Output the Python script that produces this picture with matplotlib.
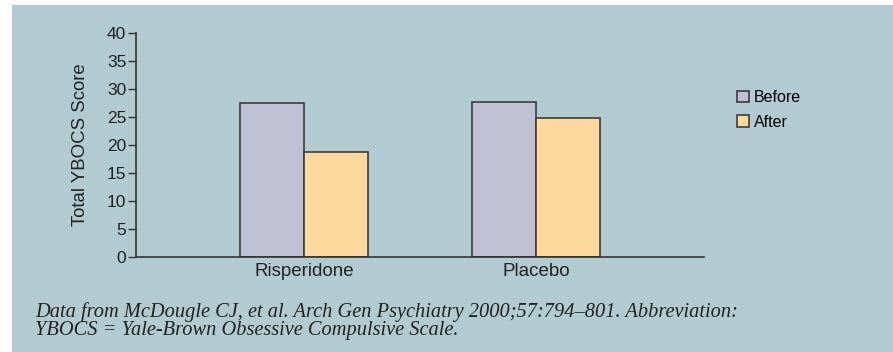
import matplotlib.pyplot as plt
import numpy as np
from matplotlib.patches import Rectangle, Patch

groups = ["Risperidone", "Placebo"]
before = [27.5, 27.7]
after = [18.8, 24.9]
series_names = ["Before", "After"]
yticks = [0, 5, 10, 15, 20, 25, 30, 35, 40]

bg = "#b2cbd0"
col_before = "#c0c0d4"
col_after = "#fed99e"
edge = "#3c3c3c"

plt.rcParams['font.family'] = ['Liberation Sans', 'DejaVu Sans']

W, H = 893, 352
fig = plt.figure(figsize=(W / 100, H / 100), dpi=100, facecolor="white")
fig.patches.append(Rectangle((12 / W, 0), 1 - 12 / W, 1 - 5 / H, transform=fig.transFigure,
                             facecolor=bg, edgecolor="none", zorder=-10))

ax = fig.add_axes([136 / W, 1 - 257 / H, (704 - 136) / W, (257 - 33) / H])
ax.set_facecolor("none")
ax.set_zorder(5)

x = np.arange(len(groups))
w = 0.276
ax.bar(x - w / 2, before, w, color=col_before, edgecolor=edge, linewidth=1.2, label=series_names[0])
ax.bar(x + w / 2, after, w, color=col_after, edgecolor=edge, linewidth=1.2, label=series_names[1])

ax.set_xlim(-0.724, 1.724)
ax.set_ylim(0, 40)
ax.set_yticks(yticks)
ax.set_xticks(x)
ax.set_xticklabels(groups)
ax.tick_params(axis="x", length=0, labelsize=13.5, colors="#222222", pad=4.5)
ax.tick_params(axis="y", length=5.5, width=1, labelsize=12.5, colors="#333333", labelcolor="#222222", pad=1.5)
for s in ["top", "right"]:
    ax.spines[s].set_visible(False)
for s in ["left", "bottom"]:
    ax.spines[s].set_color("#333333")
    ax.spines[s].set_linewidth(1.2)
ax.set_ylabel("Total YBOCS Score", fontsize=13.4, color="#222222")
ax.yaxis.set_label_coords(-0.083, 0.5)

handles = [Patch(facecolor=col_before, edgecolor=edge, linewidth=1.2),
           Patch(facecolor=col_after, edgecolor=edge, linewidth=1.2)]
fig.legend(handles, series_names, loc="upper left", bbox_to_anchor=(737 / W, 1 - 90 / H),
           frameon=False, fontsize=11.5, handlelength=0.75, handleheight=0.75,
           handletextpad=0.3, labelspacing=0.6, borderaxespad=0, borderpad=0)

caption1 = "Data from McDougle CJ, et al. Arch Gen Psychiatry 2000;57:794\u2013801. Abbreviation:"
caption2 = "YBOCS = Yale-Brown Obsessive Compulsive Scale."
for txt, yb in [(caption1, 317), (caption2, 335)]:
    fig.text(35 / W, 1 - yb / H, txt, ha="left", va="baseline", fontsize=14.7, style="italic",
             family=["Liberation Serif", "DejaVu Serif"], color="#222222")

fig.savefig("out.png", dpi=100, facecolor="white")
